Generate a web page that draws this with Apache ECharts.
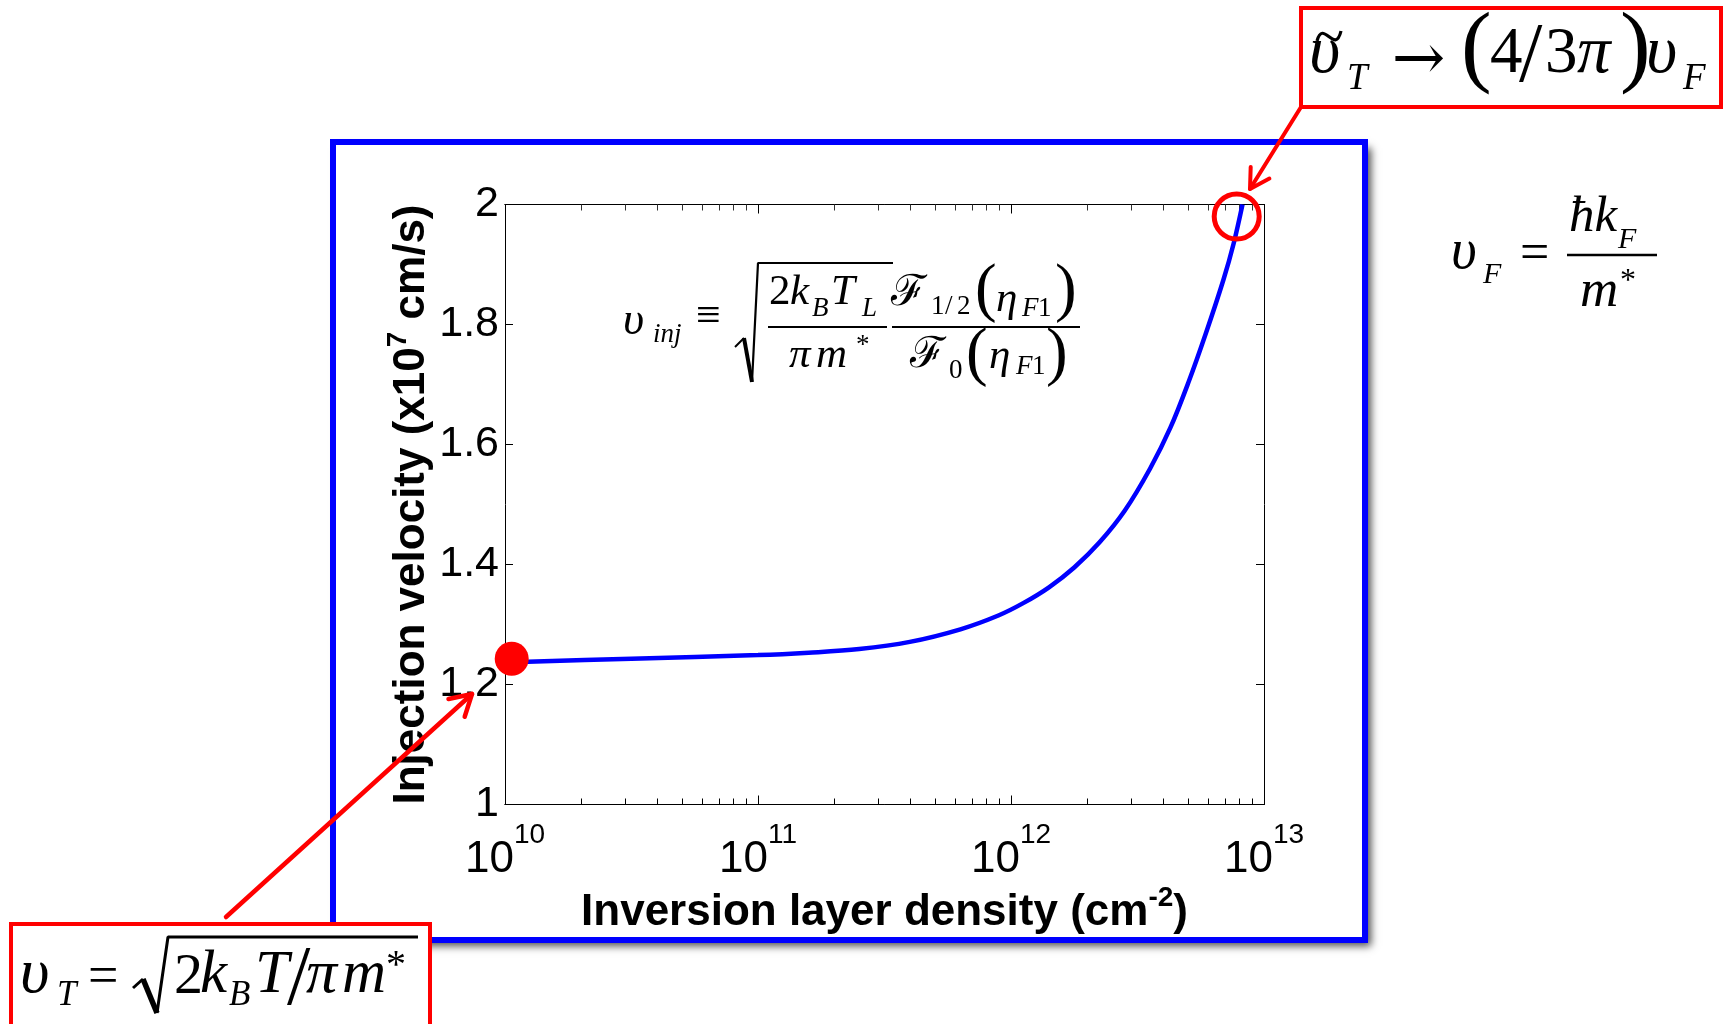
<!DOCTYPE html>
<html><head><meta charset="utf-8">
<script src="https://cdn.jsdelivr.net/npm/echarts@6/dist/echarts.min.js"></script>
<style>html,body{margin:0;padding:0;background:#fff;} #c{width:1729px;height:1024px;}</style>
</head><body><div id="c"></div>
<script>
// ---- data ----
const density  = [1.062e10, 3.162e10, 1.0e11, 1.585e11, 2.512e11, 3.981e11, 6.310e11, 8.913e11, 1.122e12, 1.413e12, 1.778e12, 2.239e12, 2.818e12, 3.548e12, 4.266e12, 5.012e12, 5.888e12, 6.918e12, 7.586e12, 8.222e12];
const velocity = [1.237, 1.243, 1.249, 1.253, 1.259, 1.271, 1.292, 1.315, 1.336, 1.362, 1.395, 1.437, 1.490, 1.560, 1.628, 1.702, 1.785, 1.875, 1.935, 2.0];
const startPoint = [1.063e10, 1.243];
const limitPoint = [7.8e12, 1.98];
const xMajorTicks = [1e10, 1e11, 1e12, 1e13];
const xMinorFactors = [2, 3, 4, 5, 6, 7, 8, 9];
const yTicks = [1, 1.2, 1.4, 1.6, 1.8, 2];
const xTitle = ['Inversion layer density (cm', '-2', ')'];
const yTitle = ['Injection velocity (x10', '7', ' cm/s)'];

const xMinorTicks = [];
xMajorTicks.slice(0, -1).forEach(d => xMinorFactors.forEach(f => xMinorTicks.push(d * f)));

const chart = echarts.init(document.getElementById('c'), null, {renderer: 'canvas'});

const sans = 'Liberation Sans';
const black = '#000';
const logCommon = {type: 'log', logBase: 10, min: xMajorTicks[0], max: xMajorTicks[xMajorTicks.length - 1],
  splitLine: {show: false}, axisLine: {show: true, lineStyle: {color: black, width: 1}}};
const valCommon = {type: 'value', min: yTicks[0], max: yTicks[yTicks.length - 1], interval: 0.2,
  splitLine: {show: false}, axisLine: {show: true, lineStyle: {color: black, width: 1}}};

function T(x, base, s, size, it) {
  return {type: 'text', z: 70, silent: true, x: x, y: base - 0.34 * size,
    style: {text: s, font: (it ? 'italic ' : '') + size + 'px "Liberation Serif"', fill: black,
      align: 'left', verticalAlign: 'middle', textAlign: 'left', textVerticalAlign: 'middle'}};
}
function TC(cx, cy, s, font) {
  return {type: 'text', z: 70, silent: true, x: cx, y: cy,
    style: {text: s, font: font, fill: black,
      align: 'center', verticalAlign: 'middle', textAlign: 'center', textVerticalAlign: 'middle'}};
}
function PL(points, w) {
  return {type: 'polyline', z: 70, silent: true, shape: {points: points},
    style: {stroke: black, lineWidth: w, fill: null, lineJoin: 'bevel'}};
}
function RED(points, w) {
  return {type: 'polyline', z: 60, silent: true, shape: {points: points},
    style: {stroke: '#ff0000', lineWidth: w, fill: null, lineCap: 'round', lineJoin: 'round'}};
}

const graphics = [
  // blue frame with shadow
  {type: 'rect', z: -10, silent: true, shape: {x: 333, y: 142, width: 1032, height: 798},
    style: {fill: '#fff', shadowBlur: 8, shadowOffsetX: 6, shadowOffsetY: 6, shadowColor: 'rgba(0,0,0,0.7)'}},
  {type: 'rect', z: -9, silent: true, shape: {x: 333, y: 142, width: 1032, height: 798},
    style: {fill: null, stroke: '#0000ff', lineWidth: 6}},
  // red boxes
  {type: 'rect', z: 50, silent: true, shape: {x: 1301, y: 8, width: 420, height: 99},
    style: {fill: '#fff', stroke: '#ff0000', lineWidth: 4}},
  {type: 'rect', z: 50, silent: true, shape: {x: 11, y: 924, width: 419, height: 130},
    style: {fill: '#fff', stroke: '#ff0000', lineWidth: 4}},
  // arrows
  RED([[226, 917], [472, 694]], 4.5),
  RED([[448.5, 699], [472, 694], [464.7, 716.8]], 4.5),
  RED([[1301, 107], [1250, 189]], 4),
  RED([[1269.4, 178.6], [1250, 189], [1250.7, 167]], 4),

  // Eq A: tilde-upsilon_T -> (4/3 pi) upsilon_F
  T(1309, 77, 'υ', 68, true),
  {type: 'bezierCurve', z: 70, silent: true, shape: {x1: 1317, y1: 41, cpx1: 1323, cpy1: 18, cpx2: 1335, cpy2: 56, x2: 1341, y2: 31},
    style: {stroke: black, lineWidth: 3.2, fill: null}},
  T(1347, 92, 'T', 37, true),
  TC(1418.5, 62, '→', '64px "DejaVu Serif"'),
  T(1461, 81.7, '(', 92, false),
  T(1490, 77, '4', 65, false),
  T(1519, 87, '/', 84, false),
  T(1545, 77, '3', 65, false),
  T(1577, 77, 'π', 67, true),
  T(1620, 81.7, ')', 92, false),
  T(1646, 77, 'υ', 68, true),
  T(1683, 92, 'F', 37, true),

  // Eq B: upsilon_F = hbar k_F / m*
  T(1451, 272, 'υ', 56, true),
  T(1483, 285, 'F', 30, true),
  T(1520, 273, '=', 52, false),
  PL([[1567, 255], [1657, 255]], 2.5),
  T(1569, 235, 'ħk', 51, true),
  T(1618, 250, 'F', 30, true),
  T(1580, 310, 'm', 53, true),
  T(1620, 292, '*', 32, false),

  // Eq C: upsilon_inj definition
  T(623, 338, 'υ', 46, true),
  T(653, 344, 'inj', 27, true),
  T(696, 332, '≡', 44, false),
  PL([[735, 347], [744, 338]], 2),
  PL([[744, 338], [752, 382]], 4),
  PL([[752, 382], [758, 263], [893, 263]], 2.2),
  T(769, 307, '2', 43, false),
  T(790, 307, 'k', 43, true),
  T(812, 318, 'B', 27, true),
  T(831, 307, 'T', 43, true),
  T(862, 318, 'L', 27, true),
  PL([[768, 327], [887, 327]], 2.2),
  T(789, 370, 'π', 43, true),
  T(816, 370, 'm', 43, true),
  T(856, 355, '*', 27, false),
  PL([[892, 327], [1080, 327]], 2.2),
  T(891, 308, 'ℱ', 43, false),
  T(931, 316, '1', 27, false),
  T(945, 316, '/', 27, false),
  T(957, 316, '2', 27, false),
  T(975, 313.6, '(', 65, false),
  T(996, 314, 'η', 43, true),
  T(1022, 318, 'F', 27, true),
  T(1038, 318, '1', 27, false),
  T(1055, 313.6, ')', 65, false),
  T(910, 370, 'ℱ', 43, false),
  T(949, 380, '0', 27, false),
  T(966, 378, '(', 65, false),
  T(989, 371, 'η', 43, true),
  T(1016, 376, 'F', 27, true),
  T(1032, 376, '1', 27, false),
  T(1046, 378, ')', 65, false),

  // Eq D: upsilon_T = sqrt(2 kB T / pi m*)
  T(20, 997, 'υ', 64, true),
  T(57, 1008, 'T', 35, true),
  T(88, 997, '=', 54, false),
  PL([[133, 988], [143, 979]], 3),
  PL([[143, 979], [157, 1013]], 5.5),
  PL([[157, 1013], [168, 937], [418, 937]], 3),
  T(174, 997, '2', 58, false),
  T(200, 997, 'k', 61, true),
  T(229, 1008, 'B', 35, true),
  T(255, 997, 'T', 61, true),
  T(287, 1010, '/', 84, false),
  T(306, 997, 'π', 62, true),
  T(342, 997, 'm', 61, true),
  T(386, 980, '*', 40, false)
];

const titleRich = {
  t: {fontSize: 44, fontWeight: 'bold', fontFamily: sans, color: black, lineHeight: 50, verticalAlign: 'bottom'},
  s: {fontSize: 28, fontWeight: 'bold', fontFamily: sans, color: black, lineHeight: 30, verticalAlign: 'top'}
};

const option = {
  backgroundColor: '#fff',
  animation: false,
  grid: {left: 505, top: 204.5, width: 759, height: 600, containLabel: false, outerBoundsMode: 'none'},
  xAxis: [
    Object.assign({}, logCommon, {position: 'bottom',
      axisTick: {inside: true, length: 9, customValues: xMajorTicks, lineStyle: {color: black}},
      axisLabel: {customValues: xMajorTicks, margin: 17,
        formatter: v => '{b|10}{e|' + Math.round(Math.log10(v)) + '}',
        rich: {b: {fontSize: 44, fontFamily: sans, color: black, lineHeight: 60, verticalAlign: 'bottom'},
               e: {fontSize: 28, fontFamily: sans, color: black, lineHeight: 14, verticalAlign: 'top'}}},
      name: '{t|' + xTitle[0] + '}{s|' + xTitle[1] + '}{t|' + xTitle[2] + '}',
      nameLocation: 'middle', nameGap: 80, nameMoveOverlap: false,
      nameTextStyle: {rich: titleRich}}),
    Object.assign({}, logCommon, {position: 'bottom',
      axisTick: {inside: true, length: 6, customValues: xMinorTicks, lineStyle: {color: black}},
      axisLabel: {show: false}}),
    Object.assign({}, logCommon, {position: 'top',
      axisTick: {inside: true, length: 9, customValues: xMajorTicks, lineStyle: {color: black}},
      axisLabel: {show: false}}),
    Object.assign({}, logCommon, {position: 'top',
      axisTick: {inside: true, length: 6, customValues: xMinorTicks, lineStyle: {color: '#333'}},
      axisLabel: {show: false}})
  ],
  yAxis: [
    Object.assign({}, valCommon, {position: 'left',
      axisTick: {inside: true, length: 8, lineStyle: {color: black}},
      axisLabel: {fontSize: 43, fontFamily: sans, color: black, margin: 6},
      name: '{t|' + yTitle[0] + '}{s|' + yTitle[1] + '}{t|' + yTitle[2] + '}',
      nameLocation: 'middle', nameGap: 71, nameMoveOverlap: false,
      nameTextStyle: {rich: titleRich}}),
    Object.assign({}, valCommon, {position: 'right',
      axisTick: {inside: true, length: 8, lineStyle: {color: black}},
      axisLabel: {show: false}})
  ],
  series: [
    {type: 'line', xAxisIndex: 0, yAxisIndex: 0, data: density.map((d, i) => [d, velocity[i]]),
      showSymbol: false, smooth: 0.35, lineStyle: {color: '#0000ff', width: 4.5}, z: 3},
    {type: 'scatter', data: [startPoint], symbolSize: 34, itemStyle: {color: '#ff0000', opacity: 1}, z: 5, clip: false},
    {type: 'scatter', data: [limitPoint], symbolSize: 45,
      itemStyle: {color: 'rgba(0,0,0,0)', borderColor: '#ff0000', borderWidth: 5, opacity: 1}, z: 5, clip: false}
  ],
  graphic: {elements: graphics}
};
chart.setOption(option);
</script></body></html>
